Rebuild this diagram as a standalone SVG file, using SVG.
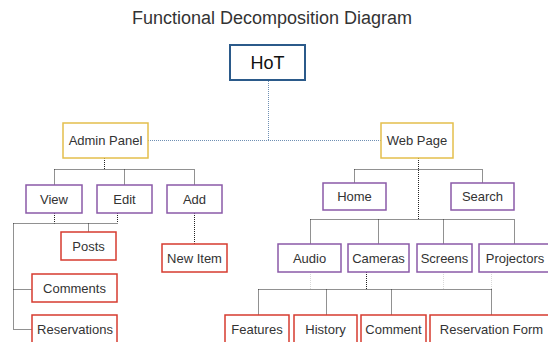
<svg xmlns="http://www.w3.org/2000/svg" width="548" height="342" viewBox="0 0 548 342">
<style>
text{font-family:"Liberation Sans",Arial,sans-serif;fill:#333;text-anchor:middle}
.lbl{font-size:13px}
.root{fill:#fff;stroke:#2b5a8a;stroke-width:2}
.main{fill:#fff;stroke:#e4bf4c;stroke-width:1.5}
.sub{fill:#fff;stroke:#8a5aa8;stroke-width:1.5}
.leaf{fill:#fff;stroke:#d63b2f;stroke-width:1.5}
.c{fill:none;stroke:#222;stroke-width:1;stroke-dasharray:1 1}
.cb{fill:none;stroke:#6f8fb3;stroke-width:1;stroke-dasharray:1 1}
.cg{fill:none;stroke:#d8d8d8;stroke-width:1;stroke-dasharray:1 1}
</style>
<rect width="548" height="342" fill="#fff"/>
<text x="272" y="24" style="font-size:18px">Functional Decomposition Diagram</text>
<g id="connectors">
<path class="cb" d="M268.5 81V140.5M148 140.5H381"/>
<path class="c" d="M104.5 158V169.5M54.5 169.5H194.5M54.5 169.5V185M124.5 169.5V185M194.5 169.5V185"/>
<path class="c" d="M54.5 213V223.5M117.5 213V223.5M13.5 223.5H117.5M88.5 223.5V232M13.5 223.5V329.5M13.5 289.5H32M13.5 329.5H32"/>
<path class="c" d="M194.5 213V244"/>
<path class="c" d="M418.5 158V219.5M354.5 169.5H482.5M354.5 169.5V183M482.5 169.5V183"/>
<path class="c" d="M310.5 219.5H514.5M310.5 219.5V244M378.5 219.5V244M443.5 219.5V244M514.5 219.5V244"/>
<path class="c" d="M366.5 272V289.5M258.5 289.5H491.5M258.5 289.5V315M326.5 289.5V315M391.5 289.5V315M491.5 289.5V315"/>
<path class="cg" d="M310.5 272V289M443.5 272V289M491.5 272V289"/>
</g>
<g id="hot"><rect class="root" x="230" y="45" width="75" height="35"/><text x="267.5" y="69" style="font-size:18px;fill:#111">HoT</text></g>
<g id="admin"><rect class="main" x="63" y="123" width="85" height="35"/><text class="lbl" x="105.5" y="145">Admin Panel</text></g>
<g id="web"><rect class="main" x="381" y="123" width="72" height="35"/><text class="lbl" x="417" y="145">Web Page</text></g>
<g id="view"><rect class="sub" x="26" y="185" width="56" height="28"/><text class="lbl" x="54" y="203.5">View</text></g>
<g id="edit"><rect class="sub" x="97" y="185" width="55" height="28"/><text class="lbl" x="124.5" y="203.5">Edit</text></g>
<g id="add"><rect class="sub" x="167" y="185" width="55" height="28"/><text class="lbl" x="194.5" y="203.5">Add</text></g>
<g id="home"><rect class="sub" x="323" y="183" width="63" height="27"/><text class="lbl" x="354.5" y="201">Home</text></g>
<g id="search"><rect class="sub" x="451" y="183" width="63" height="27"/><text class="lbl" x="482.5" y="201">Search</text></g>
<g id="posts"><rect class="leaf" x="61" y="232" width="55" height="28"/><text class="lbl" x="88.5" y="250.5">Posts</text></g>
<g id="newitem"><rect class="leaf" x="162" y="244" width="65" height="28"/><text class="lbl" x="194.5" y="262.5">New Item</text></g>
<g id="comments"><rect class="leaf" x="32" y="274" width="85" height="28"/><text class="lbl" x="74.5" y="292.5">Comments</text></g>
<g id="reservations"><rect class="leaf" x="32" y="315" width="85" height="28"/><text class="lbl" x="75" y="333.5">Reservations</text></g>
<g id="audio"><rect class="sub" x="278" y="244" width="63" height="28"/><text class="lbl" x="309.5" y="262.5">Audio</text></g>
<g id="cameras"><rect class="sub" x="348" y="244" width="61" height="28"/><text class="lbl" x="378.5" y="262.5">Cameras</text></g>
<g id="screens"><rect class="sub" x="417" y="244" width="55" height="28"/><text class="lbl" x="444.5" y="262.5">Screens</text></g>
<g id="projectors"><rect class="sub" x="479" y="244" width="70" height="28"/><text class="lbl" x="515" y="262.5">Projectors</text></g>
<g id="features"><rect class="leaf" x="225" y="315" width="64" height="28"/><text class="lbl" x="257" y="333.5">Features</text></g>
<g id="history"><rect class="leaf" x="294" y="315" width="63" height="28"/><text class="lbl" x="325.5" y="333.5">History</text></g>
<g id="comment"><rect class="leaf" x="361" y="315" width="65" height="28"/><text class="lbl" x="393.5" y="333.5">Comment</text></g>
<g id="reservationform"><rect class="leaf" x="430" y="315" width="120" height="28"/><text class="lbl" x="491.5" y="333.5">Reservation Form</text></g>
</svg>
